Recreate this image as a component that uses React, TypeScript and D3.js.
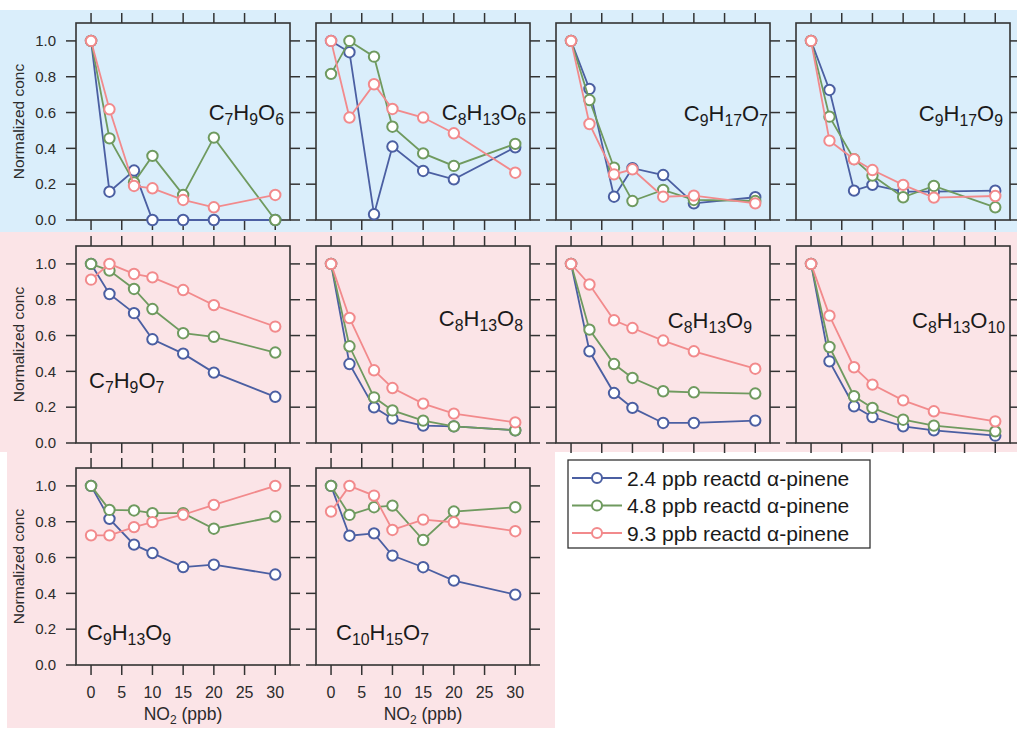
import React from "react";
import * as d3 from "d3";

// NO2 levels (ppb)
const no2 = [0, 3, 7, 10, 15, 20, 30];
const xTicks = [0, 5, 10, 15, 20, 25, 30];
const yTicks = [0, 0.2, 0.4, 0.6, 0.8, 1.0];

const seriesNames = [
  "2.4 ppb reactd \u03b1-pinene",
  "4.8 ppb reactd \u03b1-pinene",
  "9.3 ppb reactd \u03b1-pinene",
];

// formula parts: [element, subscript]
const formulas: [string, string][][] = [
  [["C", "7"], ["H", "9"], ["O", "6"]],
  [["C", "8"], ["H", "13"], ["O", "6"]],
  [["C", "9"], ["H", "17"], ["O", "7"]],
  [["C", "9"], ["H", "17"], ["O", "9"]],
  [["C", "7"], ["H", "9"], ["O", "7"]],
  [["C", "8"], ["H", "13"], ["O", "8"]],
  [["C", "8"], ["H", "13"], ["O", "9"]],
  [["C", "8"], ["H", "13"], ["O", "10"]],
  [["C", "9"], ["H", "13"], ["O", "9"]],
  [["C", "10"], ["H", "15"], ["O", "7"]],
];

// series values per panel: 2.4, 4.8, 9.3 ppb reacted alpha-pinene
const C7H9O6 = [
  [1.0, 0.158, 0.276, 0.0, 0.0, 0.0, 0.0],
  [1.0, 0.456, 0.21, 0.358, 0.14, 0.46, 0.0],
  [1.0, 0.618, 0.19, 0.177, 0.112, 0.071, 0.14],
];
const C8H13O6 = [
  [1.0, 0.937, 0.032, 0.41, 0.274, 0.227, 0.406],
  [0.816, 1.0, 0.912, 0.521, 0.372, 0.302, 0.425],
  [1.0, 0.572, 0.758, 0.62, 0.572, 0.484, 0.264],
];
const C9H17O7 = [
  [1.0, 0.732, 0.13, 0.289, 0.251, 0.093, 0.127],
  [1.0, 0.67, 0.292, 0.106, 0.168, 0.112, 0.106],
  [1.0, 0.536, 0.255, 0.283, 0.13, 0.136, 0.093],
];
const C9H17O9 = [
  [1.0, 0.726, 0.164, 0.196, 0.158, 0.158, 0.164],
  [1.0, 0.577, 0.34, 0.248, 0.127, 0.19, 0.071],
  [1.0, 0.443, 0.339, 0.279, 0.196, 0.125, 0.134],
];
const C7H9O7 = [
  [1.0, 0.832, 0.725, 0.579, 0.499, 0.393, 0.258],
  [1.0, 0.963, 0.86, 0.748, 0.613, 0.593, 0.505],
  [0.912, 1.0, 0.944, 0.925, 0.854, 0.77, 0.65],
];
const C8H13O8 = [
  [1.0, 0.441, 0.199, 0.136, 0.097, 0.093, 0.071],
  [1.0, 0.54, 0.255, 0.182, 0.125, 0.093, 0.071],
  [1.0, 0.698, 0.406, 0.307, 0.22, 0.164, 0.115],
];
const C8H13O9 = [
  [1.0, 0.512, 0.279, 0.196, 0.112, 0.112, 0.125],
  [1.0, 0.633, 0.441, 0.363, 0.289, 0.283, 0.276],
  [1.0, 0.885, 0.685, 0.642, 0.572, 0.512, 0.415],
];
const C8H13O10 = [
  [1.0, 0.456, 0.205, 0.145, 0.093, 0.071, 0.041],
  [1.0, 0.536, 0.261, 0.196, 0.13, 0.097, 0.065],
  [1.0, 0.711, 0.423, 0.326, 0.238, 0.177, 0.121],
];
const C9H13O9 = [
  [1.0, 0.816, 0.672, 0.625, 0.547, 0.56, 0.505],
  [1.0, 0.866, 0.863, 0.848, 0.848, 0.761, 0.829],
  [0.724, 0.724, 0.77, 0.798, 0.839, 0.894, 1.0],
];
const C10H15O7 = [
  [1.0, 0.722, 0.735, 0.611, 0.546, 0.471, 0.393],
  [1.0, 0.838, 0.881, 0.89, 0.698, 0.857, 0.881],
  [0.857, 1.0, 0.946, 0.754, 0.812, 0.797, 0.747],
];

const panelData = [
  C7H9O6, C8H13O6, C9H17O7, C9H17O9,
  C7H9O7, C8H13O8, C8H13O9, C8H13O10,
  C9H13O9, C10H15O7,
];

// layout (not data)
const colors = ["#4b5fa2", "#6f9a5f", "#f28a8c"];
const panelW = 214;
const panelH = 197;
const colX = [76, 316, 556, 796];
const rowY = [23, 246, 468];
// label placement relative to panel: [x, baseline y, anchor]
const labelPos: [number, number, "start" | "end"][] = [
  [208, 97, "end"], [210, 97, "end"], [212, 98, "end"], [207, 98, "end"],
  [13, 142, "start"], [207, 80, "end"], [196, 82, "end"], [209, 82, "end"],
  [11, 172, "start"], [20, 172, "start"],
];

const FONT = "'Liberation Sans', Arial, Helvetica, sans-serif";
const TEXT = "#2b2b2b";

const x = d3.scaleLinear().domain([-2.45, 32.4]).range([0, panelW]);
const y = d3.scaleLinear().domain([0, 1.1]).range([panelH, 0]);
const line = d3
  .line<[number, number]>()
  .x((d) => x(d[0]))
  .y((d) => y(d[1]));

function Formula({ parts, fs }: { parts: [string, string][]; fs: number }) {
  const out: React.ReactNode[] = [];
  parts.forEach(([el, sub], i) => {
    out.push(
      <tspan key={"e" + i} fontSize={fs} dy={i === 0 ? 0 : -5}>
        {el}
      </tspan>
    );
    out.push(
      <tspan key={"s" + i} fontSize={fs * 0.72} dy={5}>
        {sub}
      </tspan>
    );
  });
  return <>{out}</>;
}

function Panel({ idx }: { idx: number }) {
  const row = idx < 4 ? 0 : idx < 8 ? 1 : 2;
  const col = idx % 4;
  const px = colX[col];
  const py = rowY[row];
  const data = panelData[idx];
  const [lx, ly, anchor] = labelPos[idx];
  const tick = 10;
  const showX = row === 2;
  const showY = col === 0;
  return (
    <g transform={`translate(${px},${py})`}>
      {xTicks.map((t) => (
        <g key={"xt" + t} stroke="#333" strokeWidth={1.5}>
          <line x1={x(t)} x2={x(t)} y1={0} y2={-tick} />
          <line x1={x(t)} x2={x(t)} y1={panelH} y2={panelH + tick} />
        </g>
      ))}
      {yTicks.map((t) => (
        <g key={"yt" + t} stroke="#333" strokeWidth={1.5}>
          <line x1={0} x2={-tick} y1={y(t)} y2={y(t)} />
          <line x1={panelW} x2={panelW + tick} y1={y(t)} y2={y(t)} />
        </g>
      ))}
      <rect x={0} y={0} width={panelW} height={panelH} fill="none" stroke="#333" strokeWidth={1.6} />
      {showY &&
        yTicks.map((t) => (
          <text
            key={"yl" + t}
            x={-20}
            y={y(t)}
            dy="0.35em"
            textAnchor="end"
            fontSize={15}
            fontFamily={FONT}
            fill={TEXT}
          >
            {d3.format(".1f")(t)}
          </text>
        ))}
      {showY && (
        <text
          transform={`translate(${-57},${panelH / 2}) rotate(-90)`}
          textAnchor="middle"
          dy="0.35em"
          fontSize={15.5}
          fontFamily={FONT}
          fill={TEXT}
        >
          Normalized conc
        </text>
      )}
      {showX &&
        xTicks.map((t) => (
          <text
            key={"xl" + t}
            x={x(t)}
            y={panelH + 33}
            textAnchor="middle"
            fontSize={16}
            fontFamily={FONT}
            fill={TEXT}
          >
            {t}
          </text>
        ))}
      {showX && (
        <text
          x={panelW / 2}
          y={panelH + 55}
          textAnchor="middle"
          fontSize={17.5}
          fontFamily={FONT}
          fill={TEXT}
        >
          NO<tspan fontSize={12} dy={3.5}>2</tspan>
          <tspan dy={-3.5}> (ppb)</tspan>
        </text>
      )}
      <text x={lx} y={ly} textAnchor={anchor} fontFamily={FONT} fill="#1a1a1a">
        <Formula parts={formulas[idx]} fs={22} />
      </text>
      {data.map((vals, si) => {
        const pts: [number, number][] = no2.map((n, i) => [n, vals[i]]);
        return (
          <g key={"s" + si}>
            <path d={line(pts) || ""} fill="none" stroke={colors[si]} strokeWidth={1.8} />
            {pts.map((p, i) => (
              <circle
                key={i}
                cx={x(p[0])}
                cy={y(p[1])}
                r={5.2}
                fill="#fff"
                stroke={colors[si]}
                strokeWidth={2}
              />
            ))}
          </g>
        );
      })}
    </g>
  );
}

function Legend() {
  const lx = 568;
  const ly = 460;
  const w = 302;
  const h = 88;
  return (
    <g>
      <rect x={lx} y={ly} width={w} height={h} fill="#fff" stroke="#333" strokeWidth={1.3} />
      {seriesNames.map((name, i) => {
        const cy = ly + 18 + i * 27.5;
        return (
          <g key={name}>
            <line x1={lx + 4} x2={lx + 54} y1={cy} y2={cy} stroke={colors[i]} strokeWidth={1.8} />
            <circle cx={lx + 29} cy={cy} r={5} fill="#fff" stroke={colors[i]} strokeWidth={2} />
            <text
              x={lx + 59}
              y={cy}
              dy="0.36em"
              fontSize={21}
              fontFamily={FONT}
              fill="#1a1a1a"
            >
              {name}
            </text>
          </g>
        );
      })}
    </g>
  );
}

export default function App() {
  return (
    <svg
      width={1017}
      height={729}
      style={{ position: "absolute", left: 0, top: 0, background: "#fff" }}
    >
      <rect x={0} y={10} width={1017} height={222} fill="#daeefb" />
      <rect x={0} y={232} width={1017} height={220} fill="#fbe4e7" />
      <rect x={7} y={452} width={548} height={276} fill="#fbe4e7" />
      {panelData.map((_, i) => (
        <Panel key={i} idx={i} />
      ))}
      <Legend />
    </svg>
  );
}
